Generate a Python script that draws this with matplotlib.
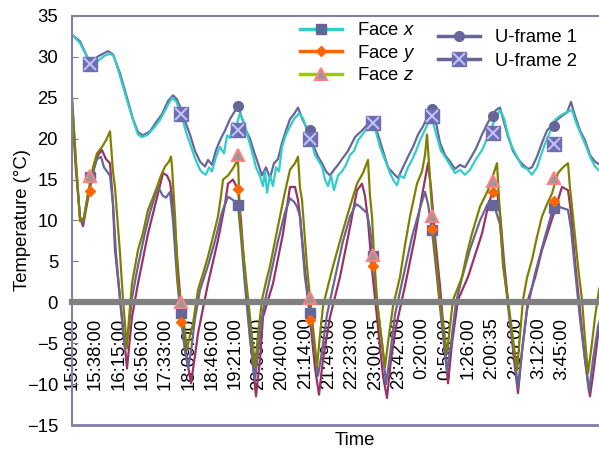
import numpy as np
import matplotlib
matplotlib.use("Agg")
import matplotlib.pyplot as plt
from matplotlib.lines import Line2D
from matplotlib.legend_handler import HandlerTuple

plt.rcParams["font.family"] = "Liberation Sans"
plt.rcParams["mathtext.fontset"] = "custom"
plt.rcParams["mathtext.rm"] = "Liberation Sans"
plt.rcParams["mathtext.it"] = "Liberation Sans:italic"

# category axis: one sample index unit, a time label every 23.33 samples
tick_step = 23.33
time_labels = ["15:00:00", "15:38:00", "16:15:00", "16:56:00", "17:33:00", "18:09:00",
               "18:46:00", "19:21:00", "20:00:00", "20:40:00", "21:14:00", "21:49:00",
               "22:23:00", "23:00:35", "23:42:00", "0:20:00", "0:56:00", "1:26:00",
               "2:00:35", "2:36:00", "3:12:00", "3:45:00"]

# upper pair of traces (sample index, deg C)
upper_cyan = [(0,32.7),(8,31.7),(15,30),(20,29.1),(26,29.5),(32,30.1),(38,30.4),(42,30.1),(46,28.5),(50,26.8),
              (55,24.7),(61,22.3),(66,20.5),(70,20.2),(76,20.5),(83,21.5),(88,22.3),(95,23.9),(100,25.0),(104,24.6),
              (109,23.1),(114,20.8),(118,19.4),(123,17.6),(128,16.2),(131,15.8),(134,15.6),(137,16.5),(140,16),(144,17.8),
              (148,19.0),(152,18.2),(155,20.4),(158,20.1),(161,21.9),(164,21.5),(168,23.1),(172,22),(176,20.2),(180,18.4),
              (184,16.5),(188,15.4),(191,14.2),(193,16),(195,13.4),(198,15.5),(201,14.2),(204,16.5),(207,16),(210,19.0),
              (214,20.5),(218,21.5),(222,22.4),(227,23.1),(231,22.5),(235,21),(239,19.8),(243,18),(247,17.2),(250,16.6),
              (253,15.0),(256,14.2),(259,15.5),(262,13.7),(266,15.5),(270,16),(274,16.8),(278,18),(282,18.5),(286,19.8),
              (291,20.6),(296,21.4),(300,21.9),(304,20.8),(308,19),(313,17.4),(318,15.8),(322,14.8),(325,14.3),(328,15.5),
              (332,15.2),(336,16.5),(340,17.4),(344,18.5),(348,19.8),(353,21.1),(358,22.4),(361,22.0),(365,20.2),(369,18.5),
              (373,17.8),(378,16.8),(383,15.8),(388,16.2),(393,15.6),(398,16.2),(404,17.5),(410,18.6),(415,20),(420,21.5),
              (424,22.6),(428,23.5),(432,22.5),(436,20.5),(440,19.0),(445,17.8),(450,16.6),(455,16.3),(460,15.6),(465,16.5),
              (469,18),(473,19.4),(478,20.8),(483,22.3),(488,22.8),(494,23.2),(500,23.5),(504,22),(508,20.8),(513,19.4),
              (518,17.8),(523,16.6),(528,16),(533,15.8)]

upper_slate = [(0,32.7),(8,31.9),(16,29.8),(23,29.8),(28,30.2),(36,30.7),(41,30.3),(48,28),(55,25),(61,22.4),
               (66,20.8),(71,20.4),(78,20.9),(84,22),(90,23),(96,24.6),(101,25.3),(105,24.8),(109,23.6),(114,21.8),
               (118,20.5),(123,18.5),(128,17.2),(133,16.6),(136,17.4),(140,16.8),(144,18.6),(148,19.8),(153,21),(158,22.4),
               (162,23.2),(166,24.0),(170,22.5),(174,21),(178,20),(182,18.4),(186,17),(190,15.5),(194,16.5),(198,15.2),
               (202,17),(206,17.5),(210,19.5),(214,21),(218,22.4),(222,23),(226,23.8),(230,22.5),(234,21.5),(238,21.1),
               (242,19),(246,17.8),(250,17),(254,16),(258,15.5),(262,16.2),(266,16.8),(270,17.5),(276,18.5),(283,20.2),
               (290,21),(296,21.8),(301,22.2),(306,20.5),(311,18.5),(316,16.5),(321,15.8),(326,15.2),(331,16.5),(336,17.8),
               (341,19),(346,20.5),(351,21.5),(356,22.8),(360,23.6),(364,22),(368,19.5),(373,18),(378,17.2),(383,16.3),
               (388,16.8),(393,16.5),(398,17.5),(404,18.8),(410,20.5),(416,22),(420,22.8),(424,23.5),(428,23.8),(432,22),
               (436,20.3),(441,18.5),(446,17.5),(451,16.8),(456,16.3),(460,16.5),(465,17.8),(470,19.5),(475,21),(480,21.6),
               (485,22.3),(490,22.8),(495,23.2),(499,24.5),(503,22.8),(508,21),(513,19.8),(518,18),(523,17.2),(528,16.8),
               (533,16.5)]

# lower traces
lower_olive = [(0,24.7),(4,17),(8,9.9),(12,10.3),(16,13.3),(21,16.5),(25,18.2),(30,19.0),(34,19.8),(38,20.9),
               (41,16),(43,14),(48,6),(51,0.3),(55,-5.6),(57,-2),(60,2.3),(66,6.4),(71,8.5),(76,11.3),
               (80,12.5),(85,14.1),(89,15.5),(93,16.6),(97,17.2),(99,17.8),(100,16.6),(103,10.5),(106,2.3),(110,-0.5),
               (115,-5.8),(118,-4),(121,-2.6),(126,1.5),(131,3.5),(136,5.6),(141,8),(146,10.5),(149,13),(151,15.0),
               (156,15.5),(160,16.2),(163,16.8),(166,17.5),(168,10),(171,6.4),(178,-1.8),(183,-7.9),(186,-4),(190,0.3),
               (194,2.5),(198,4.4),(203,7.5),(208,10.5),(213,13.5),(218,16.2),(223,17),(226,17.8),(228,14),(230,12.5),
               (235,4.4),(238,0.5),(241,-3),(245,-7.9),(248,-4),(251,-0.5),(256,2),(261,4.4),(268,7.5),(275,10.5),
               (280,12.5),(285,14.5),(291,15.8),(296,17.4),(298,13),(300,10.5),(302,5.8),(305,0.3),(309,-4),(313,-7.9),
               (317,-4),(321,-0.5),(328,3.1),(333,7),(338,10.5),(345,14.5),(350,16),(353,18),(355,20.5),(357,17),
               (360,11.3),(363,6.4),(368,0.3),(375,-6.2),(378,-3),(381,0.3),(385,1.5),(390,3.1),(395,6),(400,8.4),
               (408,11.7),(416,13.7),(421,15.5),(425,17.0),(428,10.5),(431,4.4),(436,0.3),(441,-4.5),(445,-8.3),(448,-4),
               (451,0.3),(455,3),(460,5.2),(465,8),(470,10.5),(475,12),(480,13.3),(486,15.8),(491,16.5),(496,17.0),
               (498,14),(501,10.5),(506,4.4),(510,0.3),(513,-4.5),(516,-8.7),(520,-5),(523,-1.8),(527,1.5),(533,4)]

lower_maroon = [(0,23.7),(4,16),(8,10.5),(11,9.3),(15,12),(18,14),(23,17),(26,18.0),(30,18.6),(34,17.5),
                (38,17.0),(41,12),(43,6.4),(50,-1.8),(55,-8.1),(60,-1.8),(66,2.3),(76,8.4),(86,13.3),(91,15.8),
                (95,15.5),(98,14.7),(102,11),(106,4),(110,-2),(115,-7),(119,-9.9),(123,-6.5),(126,-3.8),(136,2.3),
                (146,7.6),(153,12),(156,14.5),(161,15),(166,13.8),(169,10),(173,3),(178,-4),(184,-11.5),(188,-7),
                (191,-1.8),(201,2.3),(211,8.4),(218,14.1),(223,14.1),(226,12.5),(228,10.5),(233,4),(238,-2),(243,-8),
                (247,-11.3),(251,-7),(258,-1.8),(268,3.1),(278,9.2),(285,13.7),(290,14.5),(293,13),(296,10),(300,4),
                (306,-3),(311,-9),(315,-11.7),(319,-7),(324,-3),(333,2),(343,8),(350,13),(356,17.0),(359,14),
                (363,8),(368,2),(372,-4),(376,-9.9),(380,-5),(386,0.3),(396,3.1),(410,8.4),(416,11.7),(421,13.7),
                (425,13.5),(428,11),(432,5),(437,-1),(442,-7),(446,-11.1),(450,-6),(456,0.3),(463,3),(470,6.4),
                (483,11.3),(490,14.1),(496,13.7),(499,11),(503,5),(508,-1),(513,-7),(518,-11.5),(522,-8),(526,-4),
                (533,0)]

lower_slate = [(0,25.1),(4,17),(8,10.3),(11,9.8),(15,12.5),(20,15.5),(25,17.5),(29,17.8),(32,16.5),(35,16.0),
               (38,15.5),(41,12),(44,6),(49,-1),(53,-5.8),(56,-4),(60,0.5),(66,4.5),(73,8.5),(78,11),
               (83,13),(86,14.1),(91,13.0),(94,12.8),(98,13.5),(101,10),(105,3),(109,-2),(113,-6),(116,-8),
               (119,-6),(123,-2),(128,1.5),(136,4.5),(143,7.5),(150,11),(156,12.9),(161,12.5),(166,11.9),(169,8),
               (173,2),(178,-4.5),(183,-9.5),(187,-5),(191,-1),(198,3),(206,7.5),(213,11),(218,12.7),(222,12.3),
               (225,11.7),(228,10.5),(233,3),(238,-1.3),(242,-5),(246,-9),(250,-6),(255,-1.5),(263,3),(271,7.5),
               (278,10.5),(284,12),(288,11.7),(295,10.9),(298,9),(301,5.7),(305,0),(310,-5),(314,-10),(318,-6.5),
               (323,-1.5),(331,3),(340,8),(348,11.5),(353,13.5),(356,12),(360,8.8),(365,3),(370,-3),(375,-8.5),
               (379,-5),(384,0),(390,3),(398,6.5),(408,10),(416,12.1),(421,11.9),(424,11.1),(428,9.5),(432,4),
               (437,-1.5),(442,-6),(446,-10.5),(450,-6),(455,-1),(463,3.5),(473,8),(480,11),(486,11.7),(496,11.3),
               (499,9),(503,4),(508,-2),(513,-7),(517,-11),(521,-7),(526,-3),(533,0)]

# sparse marker series
marker_idx = [18, 109, 166, 238, 301, 360, 421, 482]
face_x = [15.3, -1.3, 11.9, -1.3, 5.7, 8.8, 11.9, 11.5]
face_y = [13.6, -2.4, 13.8, -2.2, 4.4, 9.0, 13.5, 12.4]
face_z = [15.4, 0.0, 18.0, 0.5, 5.8, 10.6, 14.8, 15.2]
uframe1 = [29.1, 23.0, 24.0, 21.1, 21.9, 23.6, 22.8, 21.6]
uframe2 = [29.1, 23.0, 21.1, 20.0, 21.9, 22.8, 20.7, 19.3]

CYAN = "#33CCCC"
SLATE = "#666699"
OLIVE = "#808000"
MAROON = "#993366"
FRAME = "#8080A8"

fig = plt.figure(figsize=(5.99, 4.49), dpi=100)
ax = fig.add_axes([72/599, 1-425/449, 566/599, 409/449])

# the category axis crosses at 0, so move the spine first (this resets the ticks)
ax.spines["bottom"].set_position(("data", 0))
ax.spines["bottom"].set_color("#808080")
ax.spines["bottom"].set_linewidth(4.5)
ax.spines["right"].set_visible(False)
for s in ["left", "top"]:
    ax.spines[s].set_color(FRAME)
    ax.spines[s].set_linewidth(1.5)

for data, col in [(lower_maroon, MAROON), (lower_slate, SLATE), (lower_olive, OLIVE),
                  (upper_slate, SLATE), (upper_cyan, CYAN)]:
    d = np.array(data)
    ax.plot(d[:, 0], d[:, 1], color=col, lw=1.6, zorder=2)

ax.plot(marker_idx, uframe1, ls="none", marker="o", ms=7, color=SLATE, zorder=4)
ax.plot(marker_idx, uframe2, ls="none", marker="s", ms=10.5, mfc="#6E6EAE", mec="#6E6EAE", zorder=5)
ax.plot(marker_idx, uframe2, ls="none", marker="x", ms=8, mew=1.5, mec="#C0C0FF", zorder=6)
ax.plot(marker_idx, face_x, ls="none", marker="s", ms=7, color=SLATE, zorder=4)
ax.plot(marker_idx, face_y, ls="none", marker="D", ms=5, color="#FF6600", zorder=5)
ax.plot(marker_idx, face_z, ls="none", marker="^", ms=8.5, mfc="#999999", mec="#FF8080", mew=1.5, zorder=6)

ax.set_xlim(0, 566)
ax.set_ylim(-15, 35)
ax.set_xticks(np.arange(len(time_labels)) * tick_step)
ax.set_xticklabels(time_labels)
ax.set_yticks(range(-15, 36, 5))
ax.tick_params(axis="x", length=0, pad=11, labelsize=13.3, labelrotation=90)
ax.tick_params(axis="y", direction="in", length=4.5, color="#808080", pad=10, labelsize=13.3)

ax.axhline(-15, color=FRAME, lw=2, clip_on=False)

ax.set_ylabel("Temperature (°C)", fontsize=13.3)
ax.yaxis.set_label_coords(-0.072, 0.5)
ax.text(0.5, -0.037, "Time", transform=ax.transAxes, ha="center", va="center", fontsize=13.3)

h_fx = Line2D([], [], color=CYAN, lw=2.5, marker="s", ms=7, mfc=SLATE, mec=SLATE)
h_fy = Line2D([], [], color="#FF6600", lw=2.5, marker="D", ms=5, mfc="#FF6600", mec="#FF6600")
h_fz = Line2D([], [], color="#99CC00", lw=2.5, marker="^", ms=8.5, mfc="#999999", mec="#FF8080", mew=1.5)
h_u1 = Line2D([], [], color=SLATE, lw=2.5, marker="o", ms=7)
h_u2a = Line2D([], [], color=SLATE, lw=2.5, marker="s", ms=10.5, mfc="#6E6EAE", mec="#6E6EAE")
h_u2b = Line2D([], [], ls="none", marker="x", ms=8, mew=1.5, mec="#C0C0FF")

leg1 = fig.legend([h_fx, h_fy, h_fz], ["Face $x$", "Face $y$", "Face $z$"],
                  loc="upper left", bbox_to_anchor=(300/599, 1-22/449), frameon=False,
                  fontsize=13.3, handlelength=2.3, handletextpad=0.8, labelspacing=0.2,
                  borderpad=0, borderaxespad=0)
leg2 = fig.legend([h_u1, (h_u2a, h_u2b)], ["U-frame 1", "U-frame 2"],
                  handler_map={tuple: HandlerTuple(ndivide=1)},
                  loc="upper left", bbox_to_anchor=(438/599, 1-29/449), frameon=False,
                  fontsize=13.3, handlelength=2.3, handletextpad=0.8, labelspacing=0.37,
                  borderpad=0, borderaxespad=0)

fig.savefig("out.png", dpi=100)
